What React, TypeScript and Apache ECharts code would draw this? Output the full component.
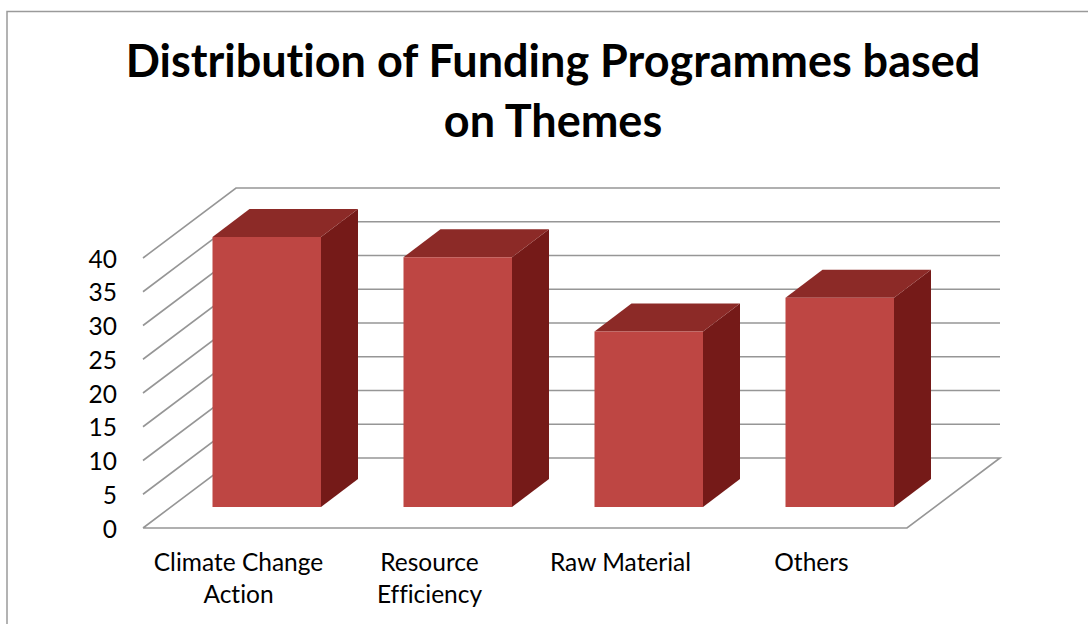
import React, { useEffect, useRef } from "react";
import * as echarts from "echarts";

const titleText = "Distribution of Funding Programmes based\non Themes";
const categories = ["Climate Change\nAction", "Resource\nEfficiency", "Raw Material", "Others"];
const values = [40, 37, 26, 31];
const gridTicks = [0, 5, 10, 15, 20, 25, 30, 35, 40];

const FONT = "Lato, Carlito, sans-serif";
const LINE = "#969696";
const DEPTH_X = 93;
const DEPTH_Y = 70;

function renderWall(params: any, api: any) {
  const v = api.value(1);
  const cs = params.coordSys;
  const left = cs.x;
  const right = cs.x + cs.width;
  const y = api.coord([0, v])[1];
  const style = { stroke: LINE, lineWidth: 1.6, fill: "none" };
  if (v === 0) {
    return {
      type: "polyline",
      shape: {
        points: [
          [left, y],
          [right, y],
          [right + DEPTH_X, y - DEPTH_Y],
          [left + DEPTH_X, y - DEPTH_Y],
          [left, y],
        ],
      },
      style,
    };
  }
  return {
    type: "polyline",
    shape: {
      points: [
        [left, y],
        [left + DEPTH_X, y - DEPTH_Y],
        [right + DEPTH_X, y - DEPTH_Y],
      ],
    },
    style,
  };
}

function renderBar(_params: any, api: any) {
  const base = api.coord([api.value(0), 0]);
  const top = api.coord([api.value(0), api.value(1)]);
  const barW = 108.5;
  const dx = 37;
  const dy = 28;
  const shiftX = 28.25;
  const shiftY = 21;
  const x0 = base[0] + shiftX - barW / 2;
  const x1 = x0 + barW;
  const yb = base[1] - shiftY;
  // The front face stands on a floor inset, so the value height starts there.
  const yt = yb - (base[1] - top[1]);
  return {
    type: "group",
    children: [
      {
        type: "polygon",
        shape: { points: [[x1, yt], [x1 + dx, yt - dy], [x1 + dx, yb - dy], [x1, yb]] },
        style: { fill: "#751A18" },
      },
      {
        type: "polygon",
        shape: { points: [[x0, yt], [x0 + dx, yt - dy], [x1 + dx, yt - dy], [x1, yt]] },
        style: { fill: "#8C2A27" },
      },
      {
        type: "rect",
        shape: { x: x0, y: yt, width: barW, height: yb - yt },
        style: { fill: "#BE4643" },
      },
    ],
  };
}

export default function App() {
  const ref = useRef<HTMLDivElement>(null);

  useEffect(() => {
    const chart = echarts.init(ref.current!, undefined, { renderer: "svg" });
    chart.setOption({
      animation: false,
      backgroundColor: "#ffffff",
      title: {
        text: titleText,
        left: 548,
        top: 25,
        textAlign: "center",
        textStyle: {
          fontFamily: FONT,
          fontSize: 45,
          fontWeight: "bold",
          color: "#000000",
          lineHeight: 60,
        },
      },
      grid: { left: 143, right: 181, top: 258, bottom: 96 },
      xAxis: {
        type: "category",
        data: categories,
        axisLine: { show: false },
        axisTick: { show: false },
        axisLabel: {
          interval: 0,
          margin: 17,
          fontFamily: FONT,
          fontSize: 24.5,
          lineHeight: 32,
          color: "#000000",
        },
      },
      yAxis: {
        type: "value",
        min: 0,
        max: 40,
        interval: 5,
        splitLine: { show: false },
        axisLine: { show: false },
        axisTick: { show: false },
        axisLabel: {
          margin: 26,
          fontFamily: FONT,
          fontSize: 24.5,
          color: "#000000",
        },
      },
      graphic: [
        {
          type: "polyline",
          shape: { points: [[7, 624], [7, 11.5], [1088, 11.5]] },
          style: { stroke: "#9a9a9a", lineWidth: 1.5, fill: "none" },
        },
      ],
      series: [
        {
          type: "custom",
          name: "Walls",
          clip: false,
          silent: true,
          z: 1,
          renderItem: renderWall,
          data: gridTicks.map((t) => [0, t]),
        },
        {
          type: "custom",
          name: "Funding Programmes",
          clip: false,
          z: 2,
          renderItem: renderBar,
          data: values.map((v, i) => [i, v]),
        },
      ],
    });
    return () => chart.dispose();
  }, []);

  return (
    <>
      <style>{"#root svg text { font-variant-ligatures: none !important; }"}</style>
      <div
        ref={ref}
        style={{ position: "fixed", left: 0, top: 0, width: 1088, height: 624 }}
      />
    </>
  );
}
